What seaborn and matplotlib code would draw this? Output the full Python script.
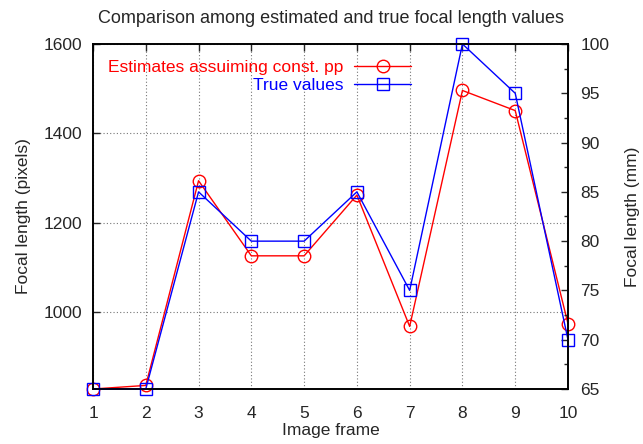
import matplotlib
matplotlib.use("Agg")
import matplotlib.pyplot as plt
import seaborn as sns
from matplotlib.lines import Line2D
from matplotlib.ticker import MultipleLocator

# values
frames = [1, 2, 3, 4, 5, 6, 7, 8, 9, 10]
est_px = [828, 836, 1294, 1126, 1126, 1262, 968, 1496, 1451, 974]
true_mm = [65, 65, 85, 80, 80, 85, 75, 100, 95, 70]
est_label = "Estimates assuiming const. pp"
true_label = "True values"

sns.set_style("white")
plt.rcParams["font.family"] = ["Liberation Sans", "DejaVu Sans"]
plt.rcParams["font.size"] = 12.5

fig = plt.figure(figsize=(6.43, 4.44), dpi=100)
ax = fig.add_axes([93 / 643, 1 - 389 / 444, 475 / 643, 345 / 444])
ax2 = ax.twinx()

sns.lineplot(x=frames, y=est_px, ax=ax, color="#ff0000", marker="o", markersize=9,
             markerfacecolor="none", markeredgecolor="#ff0000", markeredgewidth=1,
             linewidth=1, clip_on=False)
sns.lineplot(x=frames, y=true_mm, ax=ax2, color="#0000ff", marker="s", markersize=9,
             markerfacecolor="none", markeredgecolor="#0000ff", markeredgewidth=1,
             linewidth=1, clip_on=False)

ax.set_xlim(1, 10)
ax.set_ylim(828, 1600)
ax2.set_ylim(65, 100)
ax.set_xticks(frames)
ax.set_yticks([1000, 1200, 1400, 1600])
ax2.set_yticks([65, 70, 75, 80, 85, 90, 95, 100])
ax2.yaxis.set_minor_locator(MultipleLocator(2.5))

ax.grid(True, linestyle=(0, (1, 2)), color="#777777", linewidth=0.8)
ax2.grid(False)

for a in (ax, ax2):
    for s in a.spines.values():
        s.set_color("black")
        s.set_linewidth(1.2)
ax.tick_params(axis="both", direction="in", length=5, width=1, labelsize=12.5,
               top=True, right=False)
ax.tick_params(axis="x", pad=12)
ax.tick_params(axis="y", pad=8)
ax2.tick_params(axis="y", which="major", direction="in", length=5, width=1, labelsize=12.5, pad=9)
ax2.tick_params(axis="y", which="minor", direction="in", length=3, width=1, right=True)

ax.set_xlabel("Image frame", fontsize=12.5, labelpad=2)
ax.set_ylabel("Focal length (pixels)", fontsize=12.5, labelpad=8.5)
ax2.set_ylabel("Focal length (mm)", fontsize=12.5, labelpad=11)
ax.set_title("Comparison among estimated and true focal length values", fontsize=13, pad=15)

handles = [
    Line2D([], [], color="#ff0000", marker="o", markersize=9, markerfacecolor="none", linewidth=1),
    Line2D([], [], color="#0000ff", marker="s", markersize=9, markerfacecolor="none", linewidth=1),
]
leg = ax.legend(handles, [est_label, true_label], loc="upper right",
                bbox_to_anchor=(0.685, 0.975), frameon=False, markerfirst=False,
                handlelength=3.3, handletextpad=0.6, labelspacing=0.2, fontsize=12.5,
                borderaxespad=0)
for t, c in zip(leg.get_texts(), ["#ff0000", "#0000ff"]):
    t.set_color(c)
    t.set_ha("right")

fig.savefig("out.png", dpi=100)
